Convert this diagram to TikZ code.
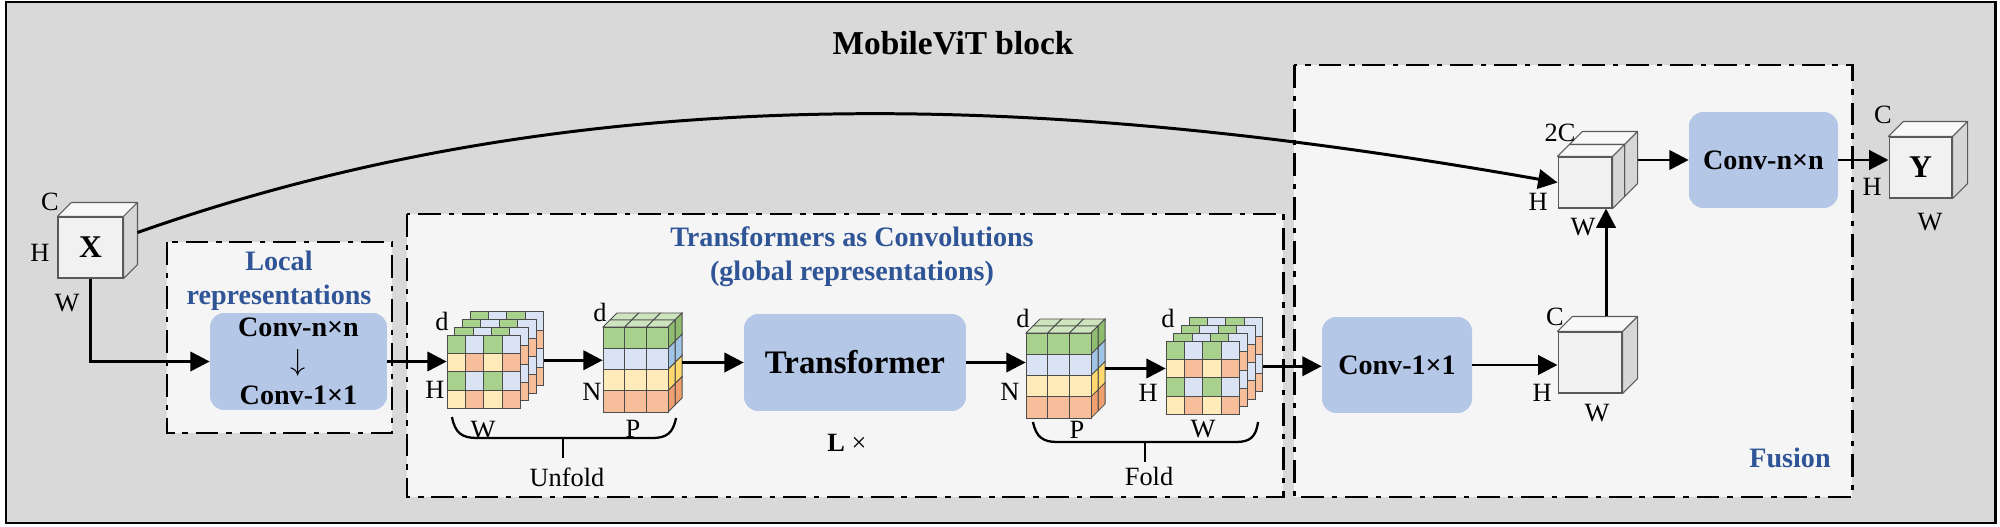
\documentclass[tikz,border=0pt]{standalone}
\usepackage{fontspec}
\setmainfont{Liberation Serif}
\usepackage{tikz}
\usetikzlibrary{arrows.meta, positioning, fit, calc}
\definecolor{BgGray}{RGB}{217,217,217}
\definecolor{PanelGray}{RGB}{245,245,245}
\definecolor{ConvBlue}{RGB}{180,199,231}
\definecolor{TitleBlue}{RGB}{47,85,151}
\definecolor{EdgeGray}{RGB}{90,90,90}
\definecolor{CubeFront}{RGB}{241,241,241}
\definecolor{CubeTop}{RGB}{248,248,248}
\definecolor{CubeSide}{RGB}{214,214,214}
\definecolor{cell00}{RGB}{169,209,142}
\definecolor{cell01}{RGB}{218,227,243}
\definecolor{cell10}{RGB}{255,235,185}
\definecolor{cell11}{RGB}{246,190,155}
\definecolor{side00}{RGB}{143,188,111}
\definecolor{side01}{RGB}{160,196,230}
\definecolor{side10}{RGB}{255,217,110}
\definecolor{side11}{RGB}{240,160,110}
\definecolor{top00}{RGB}{205,228,190}
% top and right faces of a cube whose front face is a node
\newcommand{\cubefaces}[2]{%
	\filldraw[cubetop] (#1.north west) -- ++(#2,-#2) -- ([shift={(#2,-#2)}]#1.north east) -- (#1.north east) -- cycle;
	\filldraw[cubeside] (#1.north east) -- ++(#2,-#2) -- ([shift={(#2,-#2)}]#1.south east) -- (#1.south east) -- cycle;}
% four stacked 4x4 feature maps
\newcommand{\gridstack}[3]{%
	\foreach \ly in {3,2,1,0}
	\foreach \row in {0,...,3}
	\foreach \col in {0,...,3} {
		\pgfmathtruncatemacro{\rr}{mod(\row,2)}
		\pgfmathtruncatemacro{\cc}{mod(\col,2)}
		\filldraw[gridline, fill=cell\rr\cc] ({#2+\ly*7.7+\col*18.4},{#3-\ly*7.7+\row*18.4}) rectangle ++(18.4,18.4);
	}
	\node[fit={(#2,#3+73.6) (#2+96.7,#3-23.1)}, inner sep=0pt] (#1) {};}
% patches as a 3x4 block of depth 2
\newcommand{\patchcube}[3]{%
	\foreach \k in {1,0} \foreach \col in {0,1,2}
		\filldraw[gridline, fill=top00] ({#2+\col*21.7+\k*7},{#3-\k*7}) -- ++(21.7,0) -- ++(7,-7) -- ++(-21.7,0) -- cycle;
	\foreach \k in {1,0} \foreach \row/\sclr in {0/side00,1/side01,2/side10,3/side11}
		\filldraw[gridline, fill=\sclr] ({#2+65.1+\k*7},{#3+\row*21.25-\k*7}) -- ++(7,-7) -- ++(0,21.25) -- ++(-7,7) -- cycle;
	\foreach \row/\clr in {0/cell00,1/cell01,2/cell10,3/cell11} \foreach \col in {0,1,2}
		\filldraw[gridline, fill=\clr] ({#2+\col*21.7},{#3+\row*21.25}) rectangle ++(21.7,21.25);
	\node[fit={(#2,#3+85) (#2+79.1,#3-14)}, inner sep=0pt] (#1) {};}

\begin{document}
\begin{tikzpicture}[x=0.02cm, y=-0.02cm,
	lbl/.style={font=\fontsize{15}{17}\selectfont, inner sep=0pt},
	partname/.style={font=\fontsize{16}{19.5}\selectfont\bfseries, text=TitleBlue, align=center, inner sep=0pt},
	convbox/.style={rectangle, rounded corners=8pt, fill=ConvBlue, align=center, inner sep=0pt,
		font=\fontsize{16}{19.3}\selectfont\bfseries},
	cubefront/.style={rectangle, draw=EdgeGray, fill=CubeFront, line width=0.6pt, inner sep=0pt,
		font=\fontsize{18}{20}\selectfont\bfseries},
	cubetop/.style={draw=EdgeGray, fill=CubeTop, line width=0.6pt, line join=round},
	cubeside/.style={draw=EdgeGray, fill=CubeSide, line width=0.6pt, line join=round},
	gridline/.style={draw=black!70, line width=0.5pt},
	region/.style={draw, line width=1.7pt, fill=PanelGray, dash pattern=on 13pt off 4.5pt on 3pt off 4.5pt},
	arr/.style={-{Triangle[length=11pt,width=11pt]}, line width=1.7pt},
	foldline/.style={line width=1.3pt}]
\useasboundingbox (0,0) rectangle (2000,527);
\draw[line width=1.7pt, fill=BgGray] (6,2) rectangle (1995,523);
\node[font=\fontsize{19}{21}\selectfont\bfseries, inner sep=0pt] (title) at (953,43) {MobileViT block};
% the three parts
\draw[region] (167,242) rectangle (392,433);
\draw[region] (407,214) rectangle (1283,497);
\draw[region] (1294,65) rectangle (1852,497);
\node[partname] (localname) at (279,281) {Local\\representations};
\node[partname] (transname) at (852,257) {Transformers as Convolutions\\(global representations)};
\node[partname] (fusename) at (1790,458) {Fusion};
% input
\node[cubefront, minimum width=1.3cm, minimum height=1.22cm] (X) at (90.5,247.5) {X};
\cubefaces{X}{14}
\node[lbl] (xC) at (50,202) {C};
\node[lbl] (xH) at (40,253) {H};
\node[lbl] (xW) at (67,303) {W};
% local representations
\node[convbox, minimum width=3.54cm, minimum height=1.94cm] (localconv) at (298.5,361.5) {Conv-n×n\\$\downarrow$\\Conv-1×1};
% unfold
\gridstack{S1}{447}{335}
\node[lbl] (s1d) at (442,321) {d};
\node[lbl] (s1H) at (435,390) {H};
\node[lbl] (s1W) at (483,430) {W};
\patchcube{P1}{603}{327}
\node[lbl] (p1d) at (600,312) {d};
\node[lbl] (p1N) at (592,392) {N};
\node[lbl] (p1P) at (633,429) {P};
\draw[foldline] (452,417) .. controls (455,433) and (462,438) .. (477,438) -- (652,438) .. controls (667,438) and (673,433) .. (676,418);
\draw[foldline] (563,438) -- (563,458);
\node[lbl] (unfold) at (567,477) {Unfold};
% transformer
\node[convbox, minimum width=4.44cm, minimum height=1.94cm, font=\fontsize{18.7}{20}\selectfont\bfseries] (transformer) at (855,362.5) {Transformer};
\node[lbl] (ltimes) at (847,443) {\textbf{L} ×};
% fold
\patchcube{P2}{1026}{333}
\node[lbl] (p2d) at (1023,318) {d};
\node[lbl] (p2N) at (1010,392) {N};
\node[lbl] (p2P) at (1077,430) {P};
\gridstack{S2}{1166}{341}
\node[lbl] (s2d) at (1168,318) {d};
\node[lbl] (s2H) at (1148,393) {H};
\node[lbl] (s2W) at (1203,429) {W};
\draw[foldline] (1033,422) .. controls (1036,437) and (1043,442) .. (1057,442) -- (1236,442) .. controls (1250,442) and (1256,437) .. (1258,422);
\draw[foldline] (1145,442) -- (1145,462);
\node[lbl] (fold) at (1149,476) {Fold};
% fusion
\node[convbox, minimum width=3cm, minimum height=1.92cm] (fuseconv) at (1397,365) {Conv-1×1};
\node[cubefront, minimum width=1.28cm, minimum height=1.22cm] (Cc) at (1590,362.5) {};
\cubefaces{Cc}{15}
\node[lbl] (cC) at (1555,317) {C};
\node[lbl] (cH) at (1542,393) {H};
\node[lbl] (cW) at (1597,413) {W};
\node[cubefront, minimum width=1.08cm, minimum height=1.02cm] (CCb) at (1597,170.5) {};
\cubefaces{CCb}{13}
\node[cubefront, minimum width=1.08cm, minimum height=1.02cm] (CC) at (1585,182.5) {};
\cubefaces{CC}{12}
\node[lbl] (ccC) at (1560,133) {2C};
\node[lbl] (ccH) at (1538,202) {H};
\node[lbl] (ccW) at (1583,227) {W};
\node[convbox, minimum width=2.98cm, minimum height=1.92cm] (outconv) at (1763.5,160) {Conv-n×n};
% output
\node[cubefront, minimum width=1.26cm, minimum height=1.22cm] (Y) at (1920.5,167.5) {Y};
\cubefaces{Y}{15}
\node[lbl] (yC) at (1883,115) {C};
\node[lbl] (yH) at (1872,187) {H};
\node[lbl] (yW) at (1930,222) {W};
% connections
\draw[arr] (X.south) |- (localconv.west);
\draw[arr] (localconv.east) -- (localconv.east -| S1.west);
\draw[arr] (S1.east) -- (S1.east -| P1.west);
\draw[arr] (P1.east) -- (P1.east -| transformer.west);
\draw[arr] (transformer.east) -- (transformer.east -| P2.west);
\draw[arr] (P2.east) -- (P2.east -| S2.west);
\draw[arr] (S2.east) -- (S2.east -| fuseconv.west);
\draw[arr] (fuseconv.east) -- (fuseconv.east -| Cc.west);
\draw[arr] ([xshift=.32cm,yshift=.3cm]Cc.north) -- ([xshift=.32cm]Cc.north |- CC.south);
\draw[arr] ([xshift=.26cm]outconv.west -| CCb.east) -- (outconv.west);
\draw[arr] (outconv.east) -- (outconv.east -| Y.west);
\draw[arr] ([xshift=.28cm,yshift=.3cm]X.east) .. controls (620,62) and (1110,104) .. (CC.west);
\end{tikzpicture}
\end{document}
